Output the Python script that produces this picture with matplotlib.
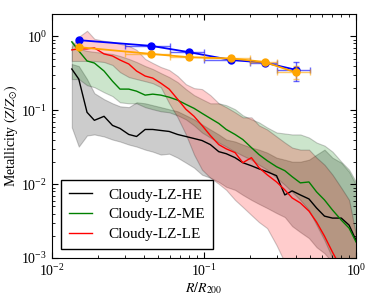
import matplotlib
matplotlib.use('Agg')
from matplotlib import pyplot as plt
import numpy as np

# radial bins of the simulated profiles (R/R200)
r = [0.0135, 0.015, 0.017, 0.019, 0.022, 0.025, 0.028, 0.032, 0.036, 0.041, 0.046, 0.052,
     0.059, 0.067, 0.076, 0.086, 0.097, 0.11, 0.125, 0.14, 0.16, 0.18, 0.205, 0.23,
     0.26, 0.30, 0.34, 0.38, 0.43, 0.49, 0.55, 0.62, 0.70, 0.80, 0.90, 1.0]

# Cloudy-LZ-HE
he_med = [0.361, 0.264, 0.0937, 0.073, 0.0827, 0.0623, 0.0567, 0.047, 0.0441, 0.0549, 0.0549, 0.0532,
          0.0516, 0.047, 0.0441, 0.0414, 0.0389, 0.0343, 0.0275, 0.0258, 0.0228, 0.0195, 0.0177, 0.0161,
          0.0147, 0.013, 0.00714, 0.0081, 0.00714, 0.0063, 0.00475, 0.00369, 0.00347, 0.00347, 0.00279, 0.00174]
he_hi = [0.422, 0.396, 0.264, 0.17, 0.141, 0.124, 0.113, 0.11, 0.128, 0.124, 0.117, 0.11,
         0.103, 0.0967, 0.0853, 0.0752, 0.0643, 0.0549, 0.047, 0.0401, 0.0377, 0.0343, 0.0312, 0.0293,
         0.0267, 0.0228, 0.0214, 0.0201, 0.0201, 0.0214, 0.0251, 0.0293, 0.0228, 0.0195, 0.0147, 0.00978]
he_lo = [0.0585, 0.0322, 0.0455, 0.047, 0.0441, 0.0401, 0.0377, 0.0343, 0.0322, 0.0293, 0.0275, 0.0251,
         0.0258, 0.0228, 0.0195, 0.0167, 0.0134, 0.0122, 0.0107, 0.00918, 0.00836, 0.00714, 0.00611, 0.00539,
         0.00475, 0.00406, 0.00358, 0.0027, 0.00224, 0.00186, 0.0014, 0.00116, 0.00087, 0.00058, 0.00045, 0.00037]

# Cloudy-LZ-ME
me_med = [0.841, 0.635, 0.464, 0.435, 0.339, 0.247, 0.193, 0.193, 0.181, 0.16, 0.165, 0.16,
          0.15, 0.137, 0.12, 0.106, 0.0908, 0.0776, 0.0663, 0.0549, 0.047, 0.0401, 0.0312, 0.0251,
          0.0208, 0.0172, 0.0152, 0.0126, 0.0104, 0.0107, 0.00785, 0.00611, 0.00446, 0.00326, 0.00254, 0.00165]
me_hi = [0.868, 0.676, 0.635, 0.615, 0.596, 0.577, 0.542, 0.494, 0.449, 0.396, 0.361, 0.318,
         0.281, 0.24, 0.193, 0.16, 0.141, 0.124, 0.124, 0.117, 0.103, 0.0853, 0.0752, 0.0684,
         0.0585, 0.05, 0.0484, 0.047, 0.047, 0.0427, 0.0365, 0.0332, 0.0275, 0.0201, 0.0157, 0.0107]
me_lo = [0.264, 0.264, 0.218, 0.205, 0.175, 0.155, 0.128, 0.124, 0.124, 0.11, 0.103, 0.0967,
         0.0937, 0.0853, 0.0752, 0.0623, 0.05, 0.0427, 0.0365, 0.0322, 0.0275, 0.0243, 0.0214, 0.0183,
         0.0157, 0.0122, 0.00978, 0.00785, 0.00611, 0.00446, 0.00279, 0.00174, 0.00099, 0.00058, 0.00045, 0.00037]

# Cloudy-LZ-LE
le_med = [0.655, 0.676, 0.676, 0.697, 0.577, 0.542, 0.478, 0.422, 0.339, 0.29, 0.272, 0.232,
          0.193, 0.141, 0.103, 0.0827, 0.0623, 0.0455, 0.0343, 0.030, 0.0267, 0.0195, 0.0228, 0.0167,
          0.0134, 0.0107, 0.00836, 0.0065, 0.00556, 0.00432, 0.00306, 0.00198, 0.0012, 0.00072, 0.0005, 0.00037]
le_hi = [0.719, 0.984, 1.188, 0.925, 0.868, 0.841, 0.79, 0.742, 0.655, 0.494, 0.435, 0.384,
         0.35, 0.29, 0.225, 0.199, 0.193, 0.16, 0.124, 0.11, 0.0937, 0.0801, 0.0801, 0.0623,
         0.0549, 0.0441, 0.0365, 0.0312, 0.0293, 0.0293, 0.0228, 0.0183, 0.0134, 0.0089, 0.00611, 0.00204]
le_lo = [0.464, 0.464, 0.464, 0.464, 0.449, 0.409, 0.328, 0.281, 0.264, 0.247, 0.232, 0.205,
         0.124, 0.0801, 0.047, 0.0251, 0.0157, 0.0122, 0.0101, 0.00836, 0.00611, 0.0049, 0.00381, 0.00306,
         0.00254, 0.00149, 0.00087, 0.0006, 0.0005, 0.0005, 0.0005, 0.0005, 0.0005, 0.0005, 0.0005, 0.0005]

# observed profiles
obs_r = [0.015, 0.045, 0.08, 0.15, 0.25, 0.40]
obs_rlo = [0.015, 0.03, 0.06, 0.10, 0.20, 0.30]
obs_rhi = [0.015, 0.06, 0.10, 0.20, 0.30, 0.50]
blue_z = [0.887, 0.742, 0.609, 0.479, 0.44, 0.353]
blue_zlo = [0.86, 0.72, 0.59, 0.46, 0.41, 0.25]
blue_zhi = [0.91, 0.77, 0.63, 0.50, 0.47, 0.445]
orange_z = [0.713, 0.578, 0.521, 0.502, 0.45, 0.325]
orange_zlo = [0.67, 0.56, 0.50, 0.48, 0.43, 0.263]
orange_zhi = [0.75, 0.60, 0.54, 0.52, 0.47, 0.40]

plt.rcParams['font.family'] = 'serif'
plt.rcParams['font.serif'] = ['Liberation Serif', 'DejaVu Serif']
plt.rcParams['mathtext.fontset'] = 'stix'
plt.rcParams['font.size'] = 11
plt.rcParams['xtick.direction'] = 'in'
plt.rcParams['ytick.direction'] = 'in'
plt.rcParams['xtick.top'] = True
plt.rcParams['ytick.right'] = True

fig = plt.figure(figsize=(3.74, 2.99), dpi=100)
ax = fig.add_axes([0.139, 0.137, 0.813, 0.816])

r = np.array(r)
ax.fill_between(r, he_lo, he_hi, facecolor='k', edgecolor='k', alpha=0.2, lw=0.8)
ax.fill_between(r, me_lo, me_hi, facecolor='g', edgecolor='k', alpha=0.2, lw=0.8)
ax.fill_between(r, le_lo, le_hi, facecolor='r', edgecolor='k', alpha=0.2, lw=0.8)

ax.plot(r, he_med, color='k', lw=1, label='Cloudy-LZ-HE')
ax.plot(r, me_med, color='g', lw=1, label='Cloudy-LZ-ME')
ax.plot(r, le_med, color='r', lw=1, label='Cloudy-LZ-LE')

for z, zlo, zhi, c in [(blue_z, blue_zlo, blue_zhi, 'b'), (orange_z, orange_zlo, orange_zhi, 'orange')]:
    z = np.array(z)
    xr = np.array(obs_r)
    xerr = [xr - np.array(obs_rlo), np.array(obs_rhi) - xr]
    yerr = [z - np.array(zlo), np.array(zhi) - z]
    ax.errorbar(xr, z, xerr=xerr, yerr=yerr, fmt='none', ecolor=c, elinewidth=1,
                capsize=2.5, alpha=0.6)
    ax.plot(xr, z, 'o-', color=c, ms=5, lw=1.3, mec=c)

ax.set_xscale('log')
ax.set_yscale('log')
ax.set_xlim(0.01, 1)
ax.set_ylim(1e-3, 2)
ax.tick_params(which='major', length=4, labelsize=10)
ax.tick_params(which='minor', length=2)
ax.set_xlabel(r'$R/R_{200}$', fontsize=10, labelpad=1)
ax.set_ylabel(r'Metallicity $(Z/Z_{\odot})$', fontsize=10)
ax.yaxis.set_label_coords(-0.105, 0.5)

leg = ax.legend(loc='lower left', fancybox=False, edgecolor='k', framealpha=1,
                handlelength=1.5, handletextpad=1.1, labelspacing=0.4, borderpad=0.5,
                borderaxespad=0.6, fontsize=11)
leg.get_frame().set_linewidth(1)

fig.savefig('out.png', dpi=100)
